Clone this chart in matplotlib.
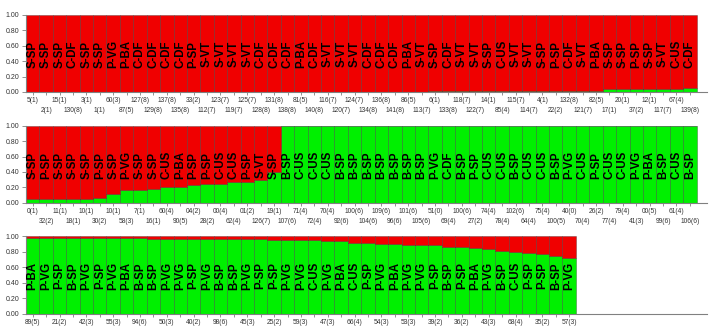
import numpy as np
import matplotlib.pyplot as plt

plt.rcParams['font.family'] = ['Liberation Sans', 'DejaVu Sans']

# panel 1
p1_groups = ['S-SP', 'S-SP', 'S-SP', 'C-DF', 'S-SP', 'S-SP', 'P-VG', 'P-BA', 'C-DF', 'C-DF',
             'C-DF', 'C-DF', 'P-SP', 'S-VT', 'S-VT', 'S-VT', 'S-VT', 'C-DF', 'C-DF', 'C-DF',
             'P-BA', 'C-DF', 'S-VT', 'S-VT', 'S-VT', 'C-DF', 'C-DF', 'C-DF', 'P-BA', 'S-VT',
             'S-SP', 'C-DF', 'S-VT', 'S-VT', 'S-SP', 'C-US', 'S-VT', 'S-VT', 'S-SP', 'P-SP',
             'C-DF', 'S-VT', 'P-BA', 'S-SP', 'S-SP', 'P-SP', 'S-SP', 'S-VT', 'C-US', 'C-DF']
p1_green = [0.0, 0.0, 0.0, 0.0, 0.0, 0.0, 0.0, 0.0, 0.0, 0.0,
            0.0, 0.0, 0.0, 0.0, 0.0, 0.0, 0.0, 0.0, 0.0, 0.0,
            0.0, 0.0, 0.0, 0.0, 0.0, 0.0, 0.0, 0.0, 0.0, 0.0,
            0.008, 0.008, 0.008, 0.008, 0.008, 0.008, 0.008, 0.012, 0.012, 0.012,
            0.012, 0.012, 0.012, 0.033, 0.033, 0.034, 0.034, 0.035, 0.037, 0.048]
p1_ticks = ['5(1)', '2(1)', '15(1)', '130(8)', '3(1)', '1(1)', '60(3)', '87(5)', '127(8)', '129(8)',
            '137(8)', '135(8)', '33(2)', '112(7)', '123(7)', '119(7)', '125(7)', '128(8)', '131(8)', '138(8)',
            '81(5)', '140(8)', '116(7)', '120(7)', '124(7)', '134(8)', '136(8)', '141(8)', '86(5)', '113(7)',
            '6(1)', '133(8)', '118(7)', '122(7)', '14(1)', '85(4)', '115(7)', '114(7)', '4(1)', '22(2)',
            '132(8)', '121(7)', '82(5)', '17(1)', '20(1)', '37(2)', '12(1)', '117(7)', '67(4)', '139(8)']

# panel 2
p2_groups = ['S-SP', 'P-SP', 'S-SP', 'S-SP', 'S-SP', 'P-SP', 'S-SP', 'P-VG', 'S-SP', 'S-SP',
             'C-US', 'P-BA', 'P-SP', 'P-SP', 'C-US', 'C-US', 'P-SP', 'S-VT', 'S-SP', 'B-SP',
             'C-US', 'C-US', 'C-US', 'B-SP', 'B-SP', 'B-SP', 'B-SP', 'B-SP', 'B-SP', 'B-SP',
             'P-VG', 'C-DF', 'B-SP', 'P-SP', 'C-US', 'C-US', 'B-SP', 'C-US', 'C-US', 'B-SP',
             'P-VG', 'C-US', 'P-SP', 'C-US', 'C-US', 'P-VG', 'P-BA', 'B-SP', 'C-US', 'B-SP']
p2_green = [0.045, 0.048, 0.05, 0.05, 0.055, 0.065, 0.11, 0.165, 0.168, 0.175,
            0.205, 0.21, 0.235, 0.238, 0.245, 0.265, 0.275, 0.30, 0.40, 0.995,
            0.995, 0.995, 0.995, 0.995, 0.995, 0.995, 0.995, 0.995, 0.995, 0.995,
            0.995, 0.995, 0.995, 0.995, 0.995, 0.995, 0.995, 0.995, 0.995, 0.995,
            0.995, 0.995, 0.995, 0.995, 0.995, 0.995, 0.995, 0.995, 0.995, 0.995]
p2_ticks = ['0(1)', '32(2)', '11(1)', '18(1)', '10(1)', '30(2)', '10(1)', '58(3)', '7(1)', '16(1)',
            '60(4)', '90(5)', '04(2)', '28(2)', '00(4)', '62(4)', '01(2)', '126(7)', '19(1)', '107(6)',
            '71(4)', '72(4)', '70(4)', '92(6)', '100(6)', '104(6)', '109(6)', '96(6)', '101(6)', '105(6)',
            '51(0)', '69(4)', '100(6)', '27(2)', '74(4)', '78(4)', '102(6)', '64(4)', '75(4)', '100(5)',
            '40(0)', '70(4)', '26(2)', '77(4)', '79(4)', '41(3)', '00(5)', '99(6)', '61(4)', '106(6)']

# panel 3 (second row of tick labels is cut off in the original)
p3_groups = ['P-BA', 'P-VG', 'P-SP', 'B-SP', 'P-VG', 'P-SP', 'P-VG', 'P-BA', 'B-SP', 'B-SP',
             'P-VG', 'P-VG', 'P-SP', 'P-VG', 'B-SP', 'B-SP', 'P-VG', 'P-SP', 'P-SP', 'P-VG',
             'P-VG', 'C-US', 'P-VG', 'P-BA', 'C-US', 'P-SP', 'P-VG', 'P-BA', 'P-VG', 'P-VG',
             'P-SP', 'B-SP', 'P-SP', 'P-BA', 'P-VG', 'B-SP', 'C-US', 'P-SP', 'P-SP', 'B-SP',
             'P-VG']
p3_green = [0.975, 0.975, 0.974, 0.973, 0.972, 0.972, 0.971, 0.970, 0.970, 0.968,
            0.963, 0.962, 0.962, 0.961, 0.960, 0.958, 0.957, 0.956, 0.955, 0.950,
            0.948, 0.945, 0.935, 0.930, 0.915, 0.910, 0.900, 0.895, 0.890, 0.885,
            0.880, 0.865, 0.855, 0.840, 0.830, 0.810, 0.800, 0.780, 0.775, 0.740,
            0.720]
p3_ticks = ['89(5)', '', '21(2)', '', '42(3)', '', '55(3)', '', '94(6)', '',
            '50(3)', '', '40(2)', '', '98(6)', '', '45(3)', '', '25(2)', '',
            '59(3)', '', '47(3)', '', '66(4)', '', '54(3)', '', '53(3)', '',
            '39(2)', '', '36(2)', '', '43(3)', '', '68(4)', '', '35(2)', '',
            '57(3)']

GREEN = '#00f000'
RED = '#f00000'
EDGE = (0.15, 0.15, 0.15, 0.45)


def draw_panel(ax, groups, green, ticks):
    x = np.arange(len(groups))
    green = np.array(green)
    ax.bar(x, green, width=1.0, color=GREEN, edgecolor=EDGE, linewidth=0.5)
    ax.bar(x, 1 - green, bottom=green, width=1.0, color=RED, edgecolor=EDGE, linewidth=0.5)
    for xi, g in zip(x, groups):
        ax.text(xi, 0.49, g, rotation=90, ha='center', va='center',
                fontsize=8.3, fontweight='bold', color='black')

    ax.set_xlim(-0.5, 50.25)
    ax.set_ylim(0, 1)
    ax.set_yticks([0, 0.2, 0.4, 0.6, 0.8, 1.0])
    ax.set_yticklabels(['%.2f' % v for v in [0, 0.2, 0.4, 0.6, 0.8, 1.0]])

    # two staggered rows of labels: even bars on major ticks, odd bars on minor ticks
    ax.set_xticks(x[::2])
    ax.set_xticklabels(ticks[::2])
    ax.set_xticks(x[1::2], minor=True)
    ax.set_xticklabels(ticks[1::2], minor=True)

    for s in ['top', 'right']:
        ax.spines[s].set_visible(False)
    for s in ['left', 'bottom']:
        ax.spines[s].set_color('#808080')
        ax.spines[s].set_linewidth(0.8)
    ax.tick_params(axis='x', which='major', length=2, width=0.6, color='#808080',
                   labelsize=4.8, labelcolor='#333333', pad=1.5)
    ax.tick_params(axis='x', which='minor', length=2, width=0.6, color='#808080',
                   labelsize=4.8, labelcolor='#333333', pad=8.7)
    ax.tick_params(axis='y', length=3, width=0.6, color='#808080', labelsize=5,
                   labelcolor='#333333', pad=2)


fig = plt.figure(figsize=(7.12, 3.26), dpi=100)
ax1 = fig.add_axes([0.0365, 0.718, 0.956, 0.236])
ax2 = fig.add_axes([0.0365, 0.378, 0.956, 0.236])
ax3 = fig.add_axes([0.0365, 0.037, 0.956, 0.239])

draw_panel(ax1, p1_groups, p1_green, p1_ticks)
draw_panel(ax2, p2_groups, p2_green, p2_ticks)
draw_panel(ax3, p3_groups, p3_green, p3_ticks)

fig.savefig('out.png', dpi=100)
